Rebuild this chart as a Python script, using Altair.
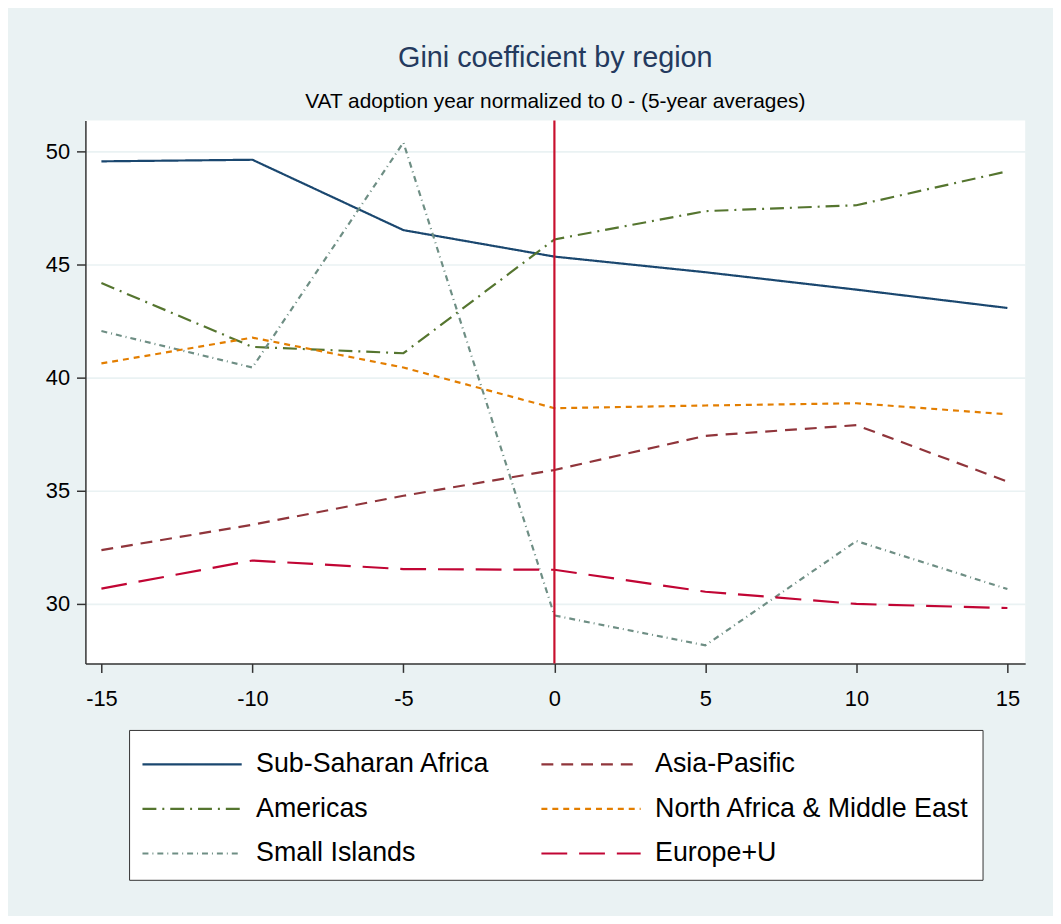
import altair as alt
import pandas as pd

years = [-15, -10, -5, 0, 5, 10, 15]
regions = ["Sub-Saharan Africa", "Americas", "Small Islands",
           "Asia-Pasific", "North Africa & Middle East", "Europe+U"]

ssa = [49.56, 49.63, 46.52, 45.35, 44.66, 43.89, 43.08]
americas = [44.18, 41.36, 41.08, 46.11, 47.36, 47.62, 49.12]
islands = [42.06, 40.45, 50.39, 29.49, 28.17, 32.78, 30.66]
asia = [32.38, 33.50, 34.78, 35.92, 37.43, 37.90, 35.41]
mena = [40.63, 41.77, 40.45, 38.65, 38.77, 38.87, 38.38]
europe = [30.68, 31.92, 31.54, 31.51, 30.54, 30.00, 29.82]

colors = ["#1a476f", "#55752f", "#6e8e84", "#90353b", "#e37e00", "#c10534"]
dashes = [[1, 0], [14, 6, 2, 6], [6, 4, 1, 4], [12, 8], [6, 5], [26, 12]]

series = [ssa, americas, islands, asia, mena, europe]
rows = []
for name, vals in zip(regions, series):
    for yr, v in zip(years, vals):
        rows.append({"year": yr, "gini": v, "region": name})
df = pd.DataFrame(rows)

FONT = "Liberation Sans, Arial, sans-serif"

x_scale = alt.Scale(domain=[-15.53, 15.59], nice=False, zero=False)
y_scale = alt.Scale(domain=[27.37, 51.36], nice=False, zero=False)

lines = alt.Chart(df).mark_line(strokeWidth=2.2).encode(
    x=alt.X("year:Q", scale=x_scale,
            axis=alt.Axis(values=[-15, -10, -5, 0, 5, 10, 15], title=None,
                          grid=False, labelExpr="'' + datum.value")),
    y=alt.Y("gini:Q", scale=y_scale,
            axis=alt.Axis(values=[30, 35, 40, 45, 50], title=None,
                          grid=True, labelExpr="'' + datum.value")),
    color=alt.Color("region:N",
                    scale=alt.Scale(domain=regions, range=colors),
                    legend=alt.Legend(
                        orient="none", legendX=44, legendY=614,
                        columns=2, title=None,
                        symbolType="M-2.5,0H2.5", symbolSize=1600,
                        symbolOffset=29,
                        symbolStrokeWidth=2.2,
                        labelFont=FONT, labelFontSize=27, labelColor="black",
                        labelLimit=0, labelOffset=43,
                        fillColor="white", strokeColor="#333333",
                        padding=13, rowPadding=10, columnPadding=47)),
    strokeDash=alt.StrokeDash("region:N",
                              scale=alt.Scale(domain=regions, range=dashes)),
    detail="region:N",
)

rule_df = pd.DataFrame({"year": [0]})
rule = alt.Chart(rule_df).mark_rule(color="#c8102e", strokeWidth=2.2).encode(
    x=alt.X("year:Q", scale=x_scale)
)

chart = alt.layer(lines, rule).properties(
    width=947, height=547,
    autosize=alt.AutoSizeParams(type="none"),
    padding={"left": 78, "top": 110, "right": 28, "bottom": 251},
    background="#eaf2f3",
    title=alt.TitleParams(
        text="Gini coefficient by region",
        subtitle="VAT adoption year normalized to 0 - (5-year averages)",
        font=FONT, fontSize=29, fontWeight="normal", color="#243a5e",
        subtitleFont=FONT, subtitleFontSize=21, subtitleColor="black",
        subtitlePadding=18, anchor="middle", offset=8,
    ),
).configure_view(
    fill="white", stroke=None
).configure_axis(
    domainColor="#333333", domainWidth=1.5,
    tickColor="#333333", tickWidth=1.5, tickSize=9,
    labelFont=FONT, labelFontSize=22, labelColor="black",
    gridColor="#eaf2f3", gridWidth=1.6,
).configure_axisY(
    labelPadding=7
).configure_axisX(
    labelPadding=16
)

chart.save("out.html", embed_options={"renderer": "svg", "actions": False})
